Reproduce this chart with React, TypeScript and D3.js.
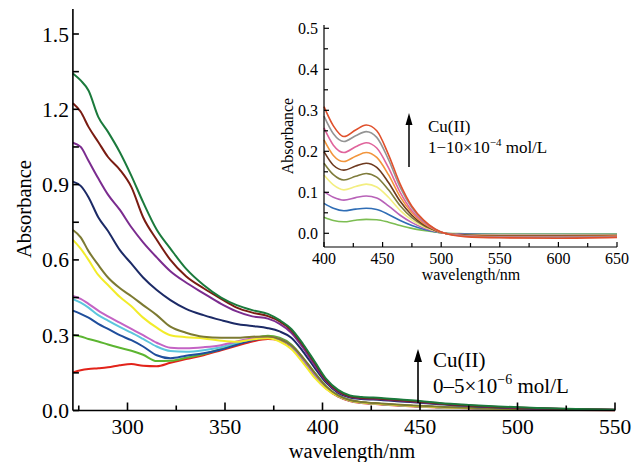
import React from "react";
import * as d3 from "d3";

// ---------- Main chart data ----------
const mainWavelengths = [272, 276, 280, 285, 290, 296, 302, 308, 315, 322, 330, 339, 348, 356, 364, 372, 378, 384, 390, 396, 402, 408, 414, 420, 430, 440, 450, 460, 475, 490, 510, 530, 550];

const mainRed = [0.152, 0.16, 0.165, 0.168, 0.172, 0.18, 0.185, 0.178, 0.176, 0.19, 0.205, 0.22, 0.24, 0.258, 0.275, 0.285, 0.28, 0.255, 0.2, 0.14, 0.088, 0.055, 0.038, 0.03, 0.024, 0.019, 0.015, 0.012, 0.009, 0.006, 0.004, 0.002, 0.001];
const mainLime = [0.30, 0.295, 0.285, 0.275, 0.263, 0.25, 0.238, 0.222, 0.197, 0.198, 0.21, 0.225, 0.245, 0.265, 0.285, 0.298, 0.29, 0.263, 0.21, 0.15, 0.095, 0.059, 0.041, 0.033, 0.026, 0.021, 0.017, 0.013, 0.01, 0.007, 0.004, 0.003, 0.002];
const mainBlue = [0.398, 0.385, 0.37, 0.345, 0.325, 0.30, 0.28, 0.255, 0.22, 0.208, 0.218, 0.228, 0.243, 0.262, 0.28, 0.29, 0.284, 0.257, 0.204, 0.144, 0.091, 0.057, 0.04, 0.032, 0.026, 0.021, 0.017, 0.013, 0.01, 0.007, 0.004, 0.003, 0.002];
const mainCyan = [0.444, 0.43, 0.41, 0.38, 0.358, 0.333, 0.31, 0.285, 0.255, 0.237, 0.234, 0.24, 0.252, 0.27, 0.285, 0.292, 0.284, 0.257, 0.203, 0.143, 0.09, 0.057, 0.04, 0.032, 0.026, 0.021, 0.017, 0.013, 0.01, 0.007, 0.004, 0.003, 0.002];
const mainPink = [0.456, 0.445, 0.425, 0.398, 0.375, 0.35, 0.325, 0.30, 0.27, 0.25, 0.248, 0.252, 0.26, 0.275, 0.288, 0.293, 0.285, 0.258, 0.205, 0.145, 0.092, 0.058, 0.04, 0.032, 0.026, 0.021, 0.017, 0.013, 0.01, 0.007, 0.004, 0.003, 0.002];
const mainYellow = [0.68, 0.645, 0.60, 0.54, 0.50, 0.453, 0.415, 0.37, 0.33, 0.30, 0.292, 0.287, 0.278, 0.274, 0.283, 0.288, 0.275, 0.245, 0.19, 0.13, 0.085, 0.057, 0.04, 0.032, 0.026, 0.021, 0.017, 0.013, 0.01, 0.007, 0.004, 0.003, 0.002];
const mainOlive = [0.719, 0.69, 0.635, 0.58, 0.53, 0.488, 0.455, 0.42, 0.38, 0.334, 0.31, 0.294, 0.29, 0.29, 0.294, 0.295, 0.285, 0.26, 0.21, 0.15, 0.095, 0.06, 0.042, 0.034, 0.028, 0.023, 0.019, 0.015, 0.011, 0.008, 0.005, 0.003, 0.002];
const mainNavy = [0.912, 0.895, 0.85, 0.77, 0.715, 0.64, 0.585, 0.53, 0.48, 0.44, 0.405, 0.38, 0.36, 0.345, 0.337, 0.328, 0.315, 0.29, 0.235, 0.17, 0.11, 0.07, 0.052, 0.046, 0.042, 0.036, 0.031, 0.025, 0.018, 0.012, 0.008, 0.004, 0.002];
const mainPurple = [1.067, 1.05, 0.995, 0.925, 0.86, 0.80, 0.73, 0.67, 0.61, 0.555, 0.51, 0.467, 0.425, 0.395, 0.375, 0.366, 0.345, 0.31, 0.25, 0.18, 0.115, 0.074, 0.055, 0.049, 0.045, 0.039, 0.033, 0.027, 0.019, 0.013, 0.008, 0.005, 0.003];
const mainDarkRed = [1.224, 1.19, 1.13, 1.07, 1.01, 0.96, 0.89, 0.77, 0.68, 0.60, 0.535, 0.487, 0.445, 0.41, 0.39, 0.376, 0.355, 0.32, 0.26, 0.19, 0.12, 0.078, 0.057, 0.051, 0.047, 0.041, 0.035, 0.028, 0.02, 0.014, 0.009, 0.005, 0.003];
const mainDarkGreen = [1.343, 1.315, 1.275, 1.17, 1.11, 1.03, 0.935, 0.83, 0.72, 0.645, 0.565, 0.50, 0.45, 0.42, 0.40, 0.385, 0.36, 0.325, 0.265, 0.195, 0.125, 0.082, 0.06, 0.054, 0.05, 0.044, 0.038, 0.03, 0.022, 0.016, 0.01, 0.006, 0.003];

const mainSeries = [mainRed, mainLime, mainBlue, mainCyan, mainPink, mainYellow, mainOlive, mainNavy, mainPurple, mainDarkRed, mainDarkGreen];
const mainColors = ["#e2231a", "#5cb531", "#1f4e9c", "#5cc6dd", "#c463c4", "#f2ec2a", "#7c7a32", "#1c2a66", "#7b2c8f", "#7a1c12", "#1b7a3c"];

const mainXTicks = [300, 350, 400, 450, 500, 550];
const mainXMinor = [275, 325, 375, 425, 475, 525];
const mainYTicks = [0.0, 0.3, 0.6, 0.9, 1.2, 1.5];
const mainYMinor = [0.15, 0.45, 0.75, 1.05, 1.35];

// ---------- Inset data ----------
const insetWavelengths = [400, 408, 417, 427, 436, 445, 455, 465, 475, 485, 495, 503, 520, 550, 600, 650];

const insetGreen = [0.039, 0.031, 0.028, 0.032, 0.034, 0.033, 0.027, 0.019, 0.012, 0.007, 0.003, 0.0, -0.001, -0.002, -0.002, -0.002];
const insetBlue = [0.073, 0.061, 0.055, 0.059, 0.061, 0.058, 0.046, 0.031, 0.019, 0.01, 0.004, 0.0, -0.002, -0.003, -0.003, -0.003];
const insetMagenta = [0.101, 0.088, 0.081, 0.087, 0.091, 0.086, 0.067, 0.044, 0.026, 0.013, 0.005, 0.0, -0.003, -0.004, -0.004, -0.004];
const insetYellow = [0.142, 0.118, 0.106, 0.114, 0.12, 0.113, 0.088, 0.056, 0.032, 0.016, 0.006, 0.0, -0.004, -0.005, -0.005, -0.005];
const insetOlive = [0.171, 0.143, 0.13, 0.139, 0.146, 0.137, 0.106, 0.067, 0.038, 0.019, 0.007, 0.0, -0.004, -0.006, -0.006, -0.005];
const insetBrown = [0.199, 0.166, 0.154, 0.164, 0.171, 0.161, 0.124, 0.078, 0.044, 0.021, 0.007, 0.0, -0.005, -0.007, -0.007, -0.006];
const insetOrange = [0.228, 0.19, 0.175, 0.188, 0.197, 0.185, 0.143, 0.089, 0.05, 0.024, 0.008, 0.0, -0.006, -0.008, -0.008, -0.007];
const insetPink = [0.257, 0.215, 0.197, 0.211, 0.221, 0.208, 0.16, 0.1, 0.055, 0.027, 0.009, 0.0, -0.006, -0.009, -0.009, -0.008];
const insetGray = [0.286, 0.243, 0.224, 0.238, 0.248, 0.234, 0.18, 0.112, 0.062, 0.03, 0.01, 0.0, -0.007, -0.01, -0.01, -0.009];
const insetRed = [0.309, 0.262, 0.236, 0.252, 0.264, 0.25, 0.192, 0.12, 0.066, 0.032, 0.01, 0.0, -0.008, -0.011, -0.012, -0.01];

const insetSeries = [insetGreen, insetBlue, insetMagenta, insetYellow, insetOlive, insetBrown, insetOrange, insetPink, insetGray, insetRed];
const insetColors = ["#7cbd52", "#2f6db5", "#b862b8", "#f3ee80", "#7f7c3c", "#6e3a1f", "#f2953c", "#e0649c", "#949494", "#e0502c"];

const insetXTicks = [400, 450, 500, 550, 600, 650];
const insetXMinor = [425, 475, 525, 575, 625];
const insetYTicks = [0.0, 0.1, 0.2, 0.3, 0.4, 0.5];
const insetYMinor = [0.05, 0.15, 0.25, 0.35, 0.45];

const FONT = "'Liberation Serif', 'Times New Roman', serif";

export default function App() {
  // main scales
  const x = d3.scaleLinear().domain([272, 550]).range([72.9, 615]);
  const y = d3.scaleLinear().domain([0, 1.5]).range([410.5, 34]);
  const yTop = y(1.6);

  // inset scales
  const xi = d3.scaleLinear().domain([400, 650]).range([324, 617]);
  const yi = d3.scaleLinear().domain([0, 0.5]).range([233.3, 28.3]);
  const yiBottom = 247;

  const mainLine = (vals: number[]) =>
    d3
      .line<number>()
      .x((_, i) => x(mainWavelengths[i]))
      .y((v) => y(v))
      .curve(d3.curveMonotoneX)(vals) as string;

  const insetLine = (vals: number[]) =>
    d3
      .line<number>()
      .x((_, i) => xi(insetWavelengths[i]))
      .y((v) => yi(v))
      .curve(d3.curveMonotoneX)(vals) as string;

  const fmt = d3.format(".1f");

  return (
    <svg width={632} height={462} style={{ display: "block", position: "absolute", left: 0, top: 0 }} fontFamily={FONT}>
      <rect x={0} y={0} width={632} height={462} fill="#fff" />
      {/* main curves */}
      <g fill="none" strokeWidth={2} strokeLinejoin="round">
        {mainSeries.map((s, i) => (
          <path key={i} d={mainLine(s)} stroke={mainColors[i]} />
        ))}
      </g>
      {/* main axes */}
      <g stroke="#000" strokeWidth={1.6} fill="none">
        <line x1={x(272)} y1={yTop} x2={x(272)} y2={y(0)} />
        <line x1={x(272)} y1={y(0)} x2={x(550)} y2={y(0)} />
        {mainXTicks.map((t) => (
          <line key={"xt" + t} x1={x(t)} x2={x(t)} y1={y(0)} y2={y(0) - 8} />
        ))}
        {mainXMinor.map((t) => (
          <line key={"xm" + t} x1={x(t)} x2={x(t)} y1={y(0)} y2={y(0) - 5} />
        ))}
        {mainYTicks.map((t) => (
          <line key={"yt" + t} x1={x(272)} x2={x(272) + 6} y1={y(t)} y2={y(t)} />
        ))}
        {mainYMinor.map((t) => (
          <line key={"ym" + t} x1={x(272)} x2={x(272) + 6} y1={y(t)} y2={y(t)} />
        ))}
      </g>
      <g fontSize={21.5} fill="#000">
        {mainXTicks.map((t) => (
          <text key={"xl" + t} x={x(t)} y={y(0) + 23} textAnchor="middle">
            {t}
          </text>
        ))}
        {mainYTicks.map((t) => (
          <text key={"yl" + t} x={x(272) - 4} y={y(t) + 7.5} textAnchor="end">
            {fmt(t)}
          </text>
        ))}
      </g>
      <g fontSize={20.5} fill="#000">
        <text x={352} y={457.5} textAnchor="middle">wavelength/nm</text>
        <text transform="translate(31,209) rotate(-90)" textAnchor="middle">Absorbance</text>
      </g>

      {/* main annotation */}
      <g>
        <line x1={418} y1={403} x2={418} y2={360} stroke="#000" strokeWidth={1.6} />
        <path d="M418,349 L414,362 L422,362 Z" fill="#000" />
        <text x={433} y={367} fontSize={21}>Cu(II)</text>
        <text x={433} y={393} fontSize={21}>
          0–5×10<tspan dy={-9} fontSize={14}>−6</tspan>
          <tspan dy={9}> mol/L</tspan>
        </text>
      </g>

      {/* inset curves */}
      <g fill="none" strokeWidth={1.6} strokeLinejoin="round">
        {insetSeries.map((s, i) => (
          <path key={i} d={insetLine(s)} stroke={insetColors[i]} />
        ))}
      </g>
      {/* inset axes */}
      <g stroke="#000" strokeWidth={1.2} fill="none">
        <line x1={xi(400)} y1={25} x2={xi(400)} y2={yiBottom} />
        <line x1={xi(400)} y1={yiBottom} x2={xi(650)} y2={yiBottom} />
        {insetXTicks.map((t) => (
          <line key={"ixt" + t} x1={xi(t)} x2={xi(t)} y1={yiBottom} y2={yiBottom - 5} />
        ))}
        {insetXMinor.map((t) => (
          <line key={"ixm" + t} x1={xi(t)} x2={xi(t)} y1={yiBottom} y2={yiBottom - 4} />
        ))}
        {insetYTicks.map((t) => (
          <line key={"iyt" + t} x1={xi(400)} x2={xi(400) + 5} y1={yi(t)} y2={yi(t)} />
        ))}
        {insetYMinor.map((t) => (
          <line key={"iym" + t} x1={xi(400)} x2={xi(400) + 4} y1={yi(t)} y2={yi(t)} />
        ))}
      </g>
      <g fontSize={16} fill="#000">
        {insetXTicks.map((t) => (
          <text key={"ixl" + t} x={xi(t)} y={yiBottom + 16.5} textAnchor="middle">
            {t}
          </text>
        ))}
        {insetYTicks.map((t) => (
          <text key={"iyl" + t} x={xi(400) - 6} y={yi(t) + 5.5} textAnchor="end">
            {fmt(t)}
          </text>
        ))}
        <text x={471} y={280} textAnchor="middle">wavelength/nm</text>
        <text transform="translate(293,136) rotate(-90)" textAnchor="middle">Absorbance</text>
      </g>
      {/* inset annotation */}
      <g>
        <line x1={409} y1={167} x2={409} y2={124} stroke="#000" strokeWidth={1.5} />
        <path d="M409,113 L405.5,125 L412.5,125 Z" fill="#000" />
        <text x={428} y={132} fontSize={17}>Cu(II)</text>
        <text x={428} y={153} fontSize={17}>
          1−10×10<tspan dy={-7} fontSize={11}>−4</tspan>
          <tspan dy={7}> mol/L</tspan>
        </text>
      </g>
    </svg>
  );
}
